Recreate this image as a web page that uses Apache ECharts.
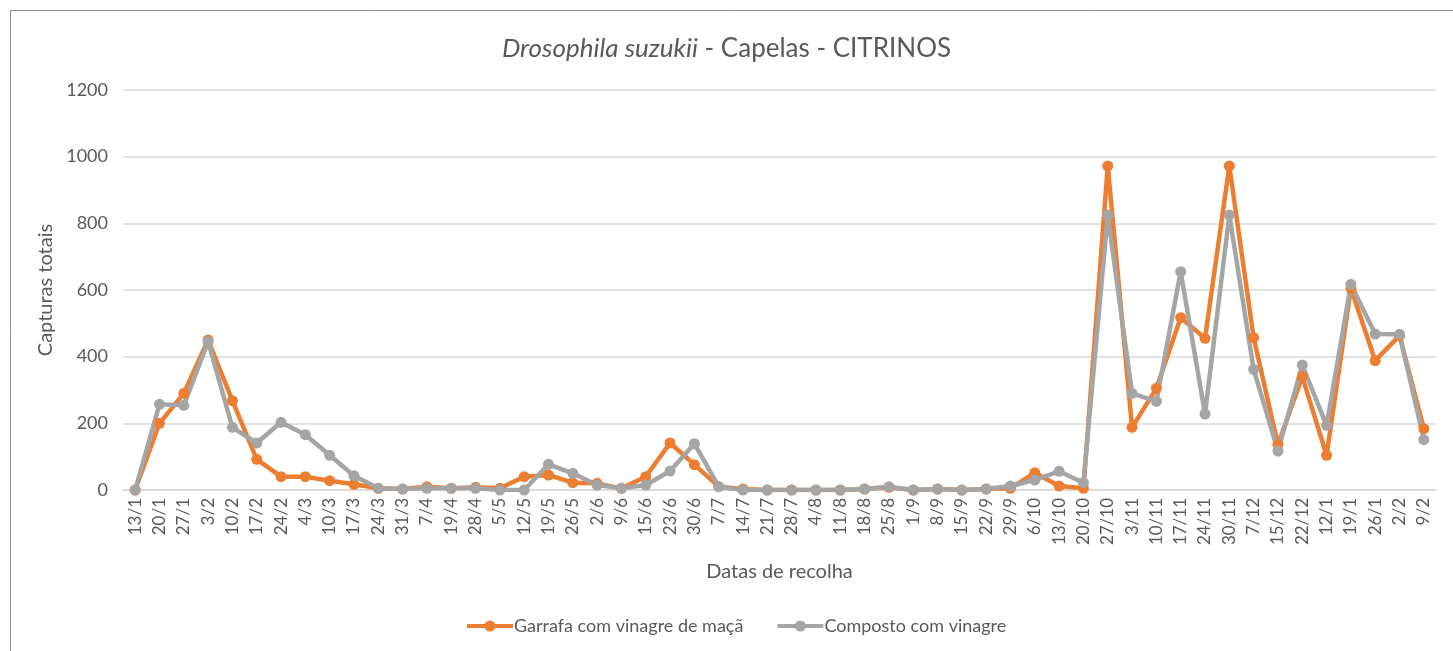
<!DOCTYPE html>
<html><head><meta charset="utf-8">
<script src="https://cdn.jsdelivr.net/npm/echarts@6/dist/echarts.min.js"></script>
<style>html,body{margin:0;padding:0;background:#fff}#c{width:1453px;height:651px}</style>
</head><body><div id="c"></div>
<script>
const categories = ["13/1","20/1","27/1","3/2","10/2","17/2","24/2","4/3","10/3","17/3","24/3","31/3","7/4","19/4","28/4","5/5","12/5","19/5","26/5","2/6","9/6","15/6","23/6","30/6","7/7","14/7","21/7","28/7","4/8","11/8","18/8","25/8","1/9","8/9","15/9","22/9","29/9","6/10","13/10","20/10","27/10","3/11","10/11","17/11","24/11","30/11","7/12","15/12","22/12","12/1","19/1","26/1","2/2","9/2"];
const garrafa = [0,200,290,450,268,92,40,40,28,17,5,3,10,5,8,5,40,45,22,20,5,40,141,76,10,3,0,0,0,0,3,8,0,3,0,3,5,52,12,5,972,188,305,517,455,972,457,136,340,104,605,388,463,184];
const composto = [0,257,254,445,188,141,203,166,104,43,5,3,5,5,5,0,0,77,50,15,5,15,57,139,10,0,0,0,0,0,3,10,0,3,0,3,12,30,56,22,825,290,266,655,228,825,362,117,375,194,617,468,467,151];
const yTicks = {min:0, max:1200, interval:200};
const seriesNames = ["Garrafa com vinagre de maçã","Composto com vinagre"];
const colors = ["#ED7D31","#A5A5A5"];
const FONT = "Lato";

const chart = echarts.init(document.getElementById('c'), null, {renderer:'canvas'});
chart.setOption({
  animation:false,
  backgroundColor:'#fff',
  textStyle:{fontFamily:FONT},
  graphic:[{type:'rect',shape:{x:10.5,y:10.5,width:1450,height:650},style:{fill:'none',stroke:'#8c8c8c',lineWidth:1},silent:true}],
  title:{
    text:'{i|Drosophila suzukii} - Capelas - CITRINOS',
    left:'center', top:31,
    textStyle:{fontFamily:FONT,fontSize:26,fontWeight:'normal',color:'#595959',
      rich:{i:{fontFamily:FONT,fontSize:26,fontStyle:'italic',color:'#595959'}}}
  },
  legend:{
    bottom:11, left:460, itemWidth:46, itemHeight:14, itemGap:32,
    lineStyle:{width:4},
    textStyle:{fontFamily:FONT,fontSize:18,color:'#595959',padding:[0,0,0,-4]},
    data:seriesNames
  },
  grid:{left:123, right:17, top:90, bottom:161, containLabel:false},
  xAxis:{
    type:'category', data:categories, boundaryGap:true,
    name:'Datas de recolha', nameLocation:'middle', nameGap:72,
    nameTextStyle:{fontFamily:FONT,fontSize:20,color:'#595959'},
    axisLine:{lineStyle:{color:'#D9D9D9',width:1.5}},
    axisTick:{show:false},
    axisLabel:{rotate:90, interval:0, fontFamily:FONT, fontSize:17, color:'#595959', margin:8}
  },
  yAxis:{
    type:'value', min:yTicks.min, max:yTicks.max, interval:yTicks.interval,
    name:'Capturas totais', nameLocation:'middle', nameGap:64, nameRotate:90,
    nameTextStyle:{fontFamily:FONT,fontSize:20,color:'#595959'},
    axisLine:{show:false}, axisTick:{show:false},
    axisLabel:{fontFamily:FONT,fontSize:18,color:'#595959',margin:15,formatter:v=>String(v)},
    splitLine:{lineStyle:{color:'#D9D9D9',width:1.5}}
  },
  series:[
    {name:seriesNames[0], type:'line', data:garrafa, color:colors[0], symbol:'circle', symbolSize:11,
     lineStyle:{width:4.5,color:colors[0]}, itemStyle:{color:colors[0]}},
    {name:seriesNames[1], type:'line', data:composto, color:colors[1], symbol:'circle', symbolSize:11,
     lineStyle:{width:4.5,color:colors[1]}, itemStyle:{color:colors[1]}}
  ]
});
</script></body></html>
